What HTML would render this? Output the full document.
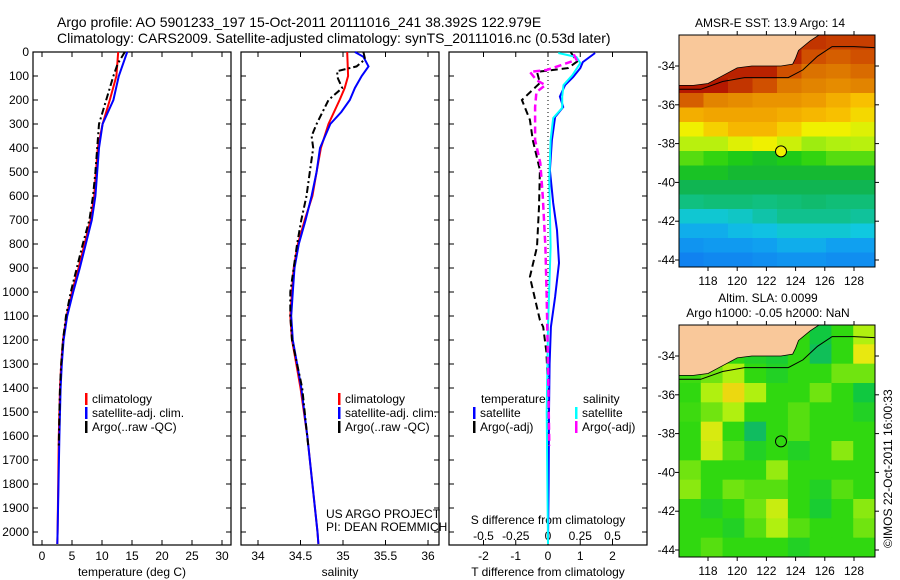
<!DOCTYPE html>
<html><head><meta charset="utf-8"><style>
body{margin:0;background:#fff;}
svg{display:block;font-family:"Liberation Sans",sans-serif;}
</style></head><body>
<svg id="fig" width="900" height="580" viewBox="0 0 900 580" xmlns="http://www.w3.org/2000/svg">
<text x="57" y="27" font-size="14">Argo profile: AO 5901233_197 15-Oct-2011 20111016_241 38.392S 122.979E</text>
<text x="57" y="43" font-size="14">Climatology: CARS2009. Satellite-adjusted climatology: synTS_20111016.nc (0.53d later)</text>
<g id="g"></g>
</svg>
<script>
// ---------- data ----------
const depthTicks=[0,100,200,300,400,500,600,700,800,900,1000,1100,1200,1300,1400,1500,1600,1700,1800,1900,2000];
const tempTicks=[0,5,10,15,20,25,30];
const salTicks=[34,34.5,35,35.5,36];
const salTickLabels=["34","34.5","35","35.5","36"];
const tdTicks=[-2,-1,0,1,2];
const sdTicks=[-0.5,-0.25,0,0.25,0.5];
const sdTickLabels=["-0.5","-0.25","0","0.25","0.5"];

const tClimD=[0,100,200,300,400,500,600,700,800,900,1000,1100,1200,1300,1400,1600,1800,2000,2050];
const tClimV=[12.7,12.4,11.3,10.1,9.3,9.0,8.7,8.1,7.1,6.1,5.0,4.1,3.5,3.2,3.0,2.8,2.7,2.6,2.55];
const tSatD=[0,100,200,300,400,500,600,700,800,900,1000,1100,1200,1300,1400,1600,1800,2000,2050];
const tSatV=[14.2,12.8,11.9,10.1,9.5,9.2,8.9,8.3,7.3,6.3,5.2,4.2,3.6,3.3,3.1,2.9,2.75,2.6,2.55];
const tArgoD=[0,50,100,200,300,400,500,600,700,800,900,1000,1100,1200,1300,1400,1500,1640];
const tArgoV=[13.8,12.6,11.9,10.7,9.5,9.2,8.9,8.5,7.9,6.8,5.8,4.8,4.0,3.5,3.2,3.0,2.9,2.8];

const sClimD=[0,100,150,200,300,400,500,600,700,800,900,1000,1100,1200,1300,1400,1600,1800,2000,2050];
const sClimV=[35.05,35.06,35.02,34.96,34.83,34.74,34.69,34.64,34.55,34.47,34.42,34.40,34.38,34.40,34.45,34.50,34.58,34.64,34.70,34.71];
const sSatD=[0,20,60,100,150,200,250,300,400,500,600,700,800,900,1000,1100,1200,1300,1400,1600,1800,2000,2050];
const sSatV=[35.14,35.24,35.30,35.22,35.14,35.08,34.98,34.85,34.73,34.69,34.63,34.56,34.48,34.43,34.41,34.39,34.41,34.46,34.51,34.58,34.64,34.70,34.71];
const sArgoD=[0,30,60,80,110,150,200,300,350,400,500,600,700,800,900,1000,1100,1200,1300,1400,1500,1640];
const sArgoV=[35.24,35.26,35.16,34.93,34.94,34.99,34.83,34.69,34.63,34.65,34.61,34.57,34.51,34.46,34.42,34.38,34.38,34.40,34.46,34.52,34.55,34.59];

const dTSatD=[4,42,67,104,138,186,229,271,367,492,629,742,879,1021,1146,1300,1500,1800,2050];
const dTSatV=[1.46,1.08,1.0,0.78,0.53,0.37,0.47,0.22,0.12,0.06,0.16,0.28,0.34,0.22,0.09,0.05,0.03,0.02,0.0];
const dTArgoD=[0,40,67,83,129,200,283,367,492,646,812,937,1117,1146,1250,1400,1640];
const dTArgoV=[0.7,0.9,0.62,-0.34,-0.25,-0.81,-0.56,-0.47,-0.25,-0.28,-0.34,-0.56,-0.25,-0.15,-0.05,0.0,0.0];
const dSSatD=[4,21,46,96,138,186,233,275,367,533,812,1146,1500,2050];
const dSSatV=[0.08,0.22,0.25,0.19,0.12,0.11,0.11,0.04,0.02,0.01,0.02,0.0,-0.01,0.0];
const dSArgoD=[10,33,75,83,117,138,167,229,367,463,604,812,1021,1300,1640];
const dSArgoV=[0.2,0.22,-0.01,-0.14,-0.09,-0.02,-0.09,-0.1,-0.1,-0.06,-0.04,-0.02,-0.01,0.0,0.01];

// SST map grid: 16 rows (north->south), 8 cols (west->east), colour index 0..1
const sstGrid=[
[0.95,0.95,0.95,0.95,0.95,0.93,0.92,0.92],
[0.95,0.95,0.95,0.95,0.95,0.9,0.88,0.9],
[0.95,0.95,0.95,0.95,0.9,0.85,0.84,0.86],
[0.96,0.96,0.93,0.9,0.84,0.82,0.8,0.82],
[0.88,0.82,0.8,0.78,0.78,0.76,0.72,0.68],
[0.72,0.74,0.74,0.74,0.72,0.7,0.68,0.65],
[0.62,0.66,0.7,0.7,0.66,0.62,0.62,0.6],
[0.56,0.56,0.6,0.62,0.58,0.54,0.55,0.56],
[0.5,0.48,0.46,0.44,0.46,0.48,0.5,0.5],
[0.44,0.44,0.42,0.42,0.42,0.42,0.42,0.42],
[0.38,0.38,0.38,0.38,0.38,0.38,0.38,0.38],
[0.33,0.34,0.34,0.33,0.34,0.35,0.34,0.34],
[0.27,0.27,0.28,0.3,0.32,0.32,0.32,0.31],
[0.22,0.22,0.24,0.25,0.27,0.27,0.27,0.26],
[0.18,0.19,0.19,0.2,0.22,0.22,0.2,0.2],
[0.15,0.16,0.16,0.17,0.18,0.18,0.17,0.17]];
// SLA map grid: 12 rows x 9 cols, 0.3 teal .. 0.45 green .. 0.65 yellow
const slaGrid=[
[0.45,0.45,0.45,0.45,0.45,0.45,0.38,0.45,0.55],
[0.45,0.45,0.45,0.42,0.4,0.45,0.35,0.45,0.62],
[0.46,0.5,0.55,0.45,0.42,0.45,0.45,0.5,0.5],
[0.45,0.55,0.66,0.55,0.45,0.45,0.5,0.45,0.38],
[0.46,0.5,0.55,0.45,0.45,0.48,0.45,0.45,0.42],
[0.45,0.6,0.45,0.34,0.45,0.48,0.45,0.45,0.45],
[0.45,0.58,0.48,0.42,0.45,0.42,0.45,0.52,0.45],
[0.5,0.45,0.45,0.45,0.53,0.45,0.45,0.45,0.45],
[0.52,0.45,0.5,0.48,0.48,0.45,0.42,0.48,0.45],
[0.45,0.42,0.45,0.5,0.58,0.45,0.4,0.45,0.52],
[0.45,0.45,0.42,0.48,0.55,0.48,0.45,0.45,0.5],
[0.45,0.48,0.45,0.45,0.45,0.42,0.45,0.45,0.45]];
const lonTicks=[118,120,122,124,126,128];
const latTicks=[-34,-36,-38,-40,-42,-44];
const coastLon=[116.0,117.0,118.0,119.0,120.0,121.0,122.0,123.0,123.8,124.0,124.2,125.0,125.6];
const coastLat=[-35.0,-35.0,-34.9,-34.5,-34.1,-34.0,-34.0,-34.0,-33.9,-33.6,-33.2,-32.7,-32.4];
const isoLon=[116.0,117.5,119.0,120.5,122.0,123.5,124.5,125.5,126.5,128.0,129.4];
const isoLat=[-35.2,-35.2,-34.8,-34.6,-34.6,-34.6,-34.2,-33.5,-33.0,-33.0,-33.05];
const argoLon=123.0, argoLat=-38.4;

// ---------- drawing ----------
const NS='http://www.w3.org/2000/svg';
const G=document.getElementById('g');
function mk(tag,attrs,parent){const e=document.createElementNS(NS,tag);for(const k in attrs)e.setAttribute(k,attrs[k]);(parent||G).appendChild(e);return e;}
function txt(x,y,s,size,anchor,parent){const t=mk('text',{x:x,y:y,'font-size':size||12,'text-anchor':anchor||'start'},parent);t.textContent=s;return t;}

const TOP=52,BOT=545;
const yD=d=>TOP+d*0.24;
const panels=[
 {x0:33,x1:231,fx:v=>42+v*6,name:'temperature-panel'},
 {x0:241,x1:439,fx:v=>258+(v-34)*85,name:'salinity-panel'},
 {x0:449,x1:647,fx:v=>548+v*32.25,name:'difference-panel'}];
const fS=v=>548+v*129;

panels.forEach((p,i)=>{
  const r=mk('rect',{x:p.x0,y:TOP,width:p.x1-p.x0,height:BOT-TOP,fill:'none',stroke:'#000','stroke-width':1.2});
  
  
  depthTicks.forEach(d=>{
    mk('line',{x1:p.x0,x2:p.x0+5,y1:yD(d),y2:yD(d),stroke:'#000'});
    mk('line',{x1:p.x1,x2:p.x1-5,y1:yD(d),y2:yD(d),stroke:'#000'});
  });
});
depthTicks.forEach(d=>{const t=txt(29,yD(d)+4,String(d),12,'end');
  
  });
function xticks(p,ticks,labels,ly){ticks.forEach((v,k)=>{const x=p.fx(v);
  mk('line',{x1:x,x2:x,y1:TOP,y2:TOP+5,stroke:'#000'});mk('line',{x1:x,x2:x,y1:BOT,y2:BOT-5,stroke:'#000'});
  const t=txt(x,ly,labels[k],12,'middle');
  
  });}
xticks(panels[0],tempTicks,tempTicks.map(String),560);
xticks(panels[1],salTicks,salTickLabels,560);
xticks(panels[2],tdTicks,tdTicks.map(String),560);
sdTicks.forEach((v,k)=>{const t=txt(fS(v),540,sdTickLabels[k],12,'middle');
  
  });
[['temperature (deg C)',132],['salinity',340],['T difference from climatology',548]].forEach(a=>{const t=txt(a[1],576,a[0],12,'middle');
  
  });
{const t=txt(548,524,'S difference from climatology',12,'middle');
  
  }
{const t=txt(326,518,'US ARGO PROJECT',12);
 const t2=txt(326,531,'PI: DEAN ROEMMICH',12);}

// zero line in difference panel
mk('line',{x1:548,x2:548,y1:TOP,y2:BOT,stroke:'#000','stroke-dasharray':'1,3'});

function series(D,V,fx,color,dash,w,name){
  const pts=D.map((d,k)=>fx(V[k]).toFixed(1)+','+yD(d).toFixed(1)).join(' ');
  const a={points:pts,fill:'none',stroke:color,'stroke-width':w||2};
  if(dash)a['stroke-dasharray']=dash;
  const pl=mk('polyline',a);
  
  
}
const fT=panels[0].fx,fSal=panels[1].fx,fTD=panels[2].fx;
series(tClimD,tClimV,fT,'#ff0000',null,2,'temperature-climatology-line');
series(tSatD,tSatV,fT,'#0000ff',null,2,'temperature-satellite-line');
series(tArgoD,tArgoV,fT,'#000',"7,3,2,3",2,'temperature-argo-line');
series(sClimD,sClimV,fSal,'#ff0000',null,2,'salinity-climatology-line');
series(sSatD,sSatV,fSal,'#0000ff',null,2,'salinity-satellite-line');
series(sArgoD,sArgoV,fSal,'#000',"7,3,2,3",2,'salinity-argo-line');
series(dTSatD,dTSatV,fTD,'#0000ff',null,2,'t-diff-satellite-line');
series(dTArgoD,dTArgoV,fTD,'#000',"7,4",2,'t-diff-argo-line');
series(dSSatD,dSSatV,fS,'#00ffff',null,2,'s-diff-satellite-line');
series(dSArgoD,dSArgoV,fS,'#ff00ff',"7,4",2.5,'s-diff-argo-line');

// legends
function leg(x,y,color,label){mk('rect',{x:x,y:y-10,width:2.5,height:12,fill:color});
  const t=txt(x+7,y,label,12);}
[[85,'#ff0000','climatology'],[85,'#0000ff','satellite-adj. clim.'],[85,'#000','Argo(..raw -QC)']].forEach((l,k)=>leg(l[0],403+k*14,l[1],l[2]));
[[338,'#ff0000','climatology'],[338,'#0000ff','satellite-adj. clim.'],[338,'#000','Argo(..raw -QC)']].forEach((l,k)=>leg(l[0],403+k*14,l[1],l[2]));
{const t=txt(481,403,'temperature',12);
 const t2=txt(583,403,'salinity',12);}
leg(473,417,'#0000ff','satellite');leg(473,431,'#000','Argo(-adj)');
leg(575,417,'#00ffff','satellite');leg(575,431,'#ff00ff','Argo(-adj)');

// ---------- maps ----------
const stops=[[0.12,[16,112,240]],[0.2,[16,160,240]],[0.26,[16,200,224]],[0.33,[16,192,128]],[0.4,[16,176,64]],[0.47,[32,208,16]],[0.55,[176,240,16]],[0.62,[240,240,0]],[0.68,[248,192,0]],[0.75,[240,160,0]],[0.83,[224,128,0]],[0.9,[208,80,0]],[0.97,[176,16,0]]];
function cmap(v){if(v<=stops[0][0])return 'rgb('+stops[0][1]+')';
  for(let i=1;i<stops.length;i++){if(v<=stops[i][0]){const a=stops[i-1],b=stops[i],t=(v-a[0])/(b[0]-a[0]);
    return 'rgb('+a[1].map((c,j)=>Math.round(c+(b[1][j]-c)*t)).join(',')+')';}}
  return 'rgb('+stops[stops.length-1][1]+')';}
const slaStops=[[0.3,[16,176,128]],[0.38,[16,200,64]],[0.45,[48,216,16]],[0.55,[176,240,16]],[0.62,[232,232,16]],[0.7,[240,200,16]]];
function cmapSla(v){if(v<=slaStops[0][0])return 'rgb('+slaStops[0][1]+')';
  for(let i=1;i<slaStops.length;i++){if(v<=slaStops[i][0]){const a=slaStops[i-1],b=slaStops[i],t=(v-a[0])/(b[0]-a[0]);
    return 'rgb('+a[1].map((c,j)=>Math.round(c+(b[1][j]-c)*t)).join(',')+')';}}
  return 'rgb('+slaStops[slaStops.length-1][1]+')';}

function drawMap(cfg){
  const {x0,x1,y0,y1,y34,grid,cm,name}=cfg;
  const fx=lon=>708+(lon-118)*14.6, fy=lat=>y34+(-34-lat)*19.4;
  const grp=mk('g',{});
  
  
  const clip='clip-'+name;
  const cp=mk('clipPath',{id:clip},grp);mk('rect',{x:x0,y:y0,width:x1-x0,height:y1-y0},cp);
  const inner=mk('g',{'clip-path':'url(#'+clip+')'},grp);
  const R=grid.length,C=grid[0].length,cw=(x1-x0)/C,ch=(y1-y0)/R;
  grid.forEach((row,r)=>row.forEach((v,c)=>{
    const cell=mk('rect',{x:(x0+c*cw).toFixed(2),y:(y0+r*ch).toFixed(2),width:(cw+0.6).toFixed(2),height:(ch+0.6).toFixed(2),fill:cm(v)},inner);
    
    
  }));
  let land='M'+x0+','+y0+' ';
  coastLon.forEach((lo,k)=>{land+='L'+fx(lo).toFixed(1)+','+fy(coastLat[k]).toFixed(1)+' ';});
  land+='L'+x1+','+fy(-32.4).toFixed(1)+' L'+x1+','+y0+' Z';
  const lp=mk('path',{d:land,fill:'#f9c89a',stroke:'#000','stroke-width':0.8},inner);
  
  const iso=mk('polyline',{points:isoLon.map((lo,k)=>fx(lo).toFixed(1)+','+fy(isoLat[k]).toFixed(1)).join(' '),fill:'none',stroke:'#000','stroke-width':1},inner);
  
  mk('rect',{x:x0,y:y0,width:x1-x0,height:y1-y0,fill:'none',stroke:'#000'},grp);
  lonTicks.forEach(lo=>{const x=fx(lo);mk('line',{x1:x,x2:x,y1:y0-4,y2:y0,stroke:'#000'},grp);mk('line',{x1:x,x2:x,y1:y1,y2:y1+4,stroke:'#000'},grp);
    const t=txt(x,y1+18,String(lo),12,'middle',grp);});
  latTicks.forEach(la=>{const y=fy(la);mk('line',{x1:x0-4,x2:x0,y1:y,y2:y,stroke:'#000'},grp);mk('line',{x1:x1,x2:x1+4,y1:y,y2:y,stroke:'#000'},grp);
    const t=txt(x0-4,y+4,String(la),12,'end',grp);});
  const m=mk('circle',{cx:fx(argoLon),cy:fy(argoLat),r:5.5,fill:cfg.marker,stroke:'#000','stroke-width':1},grp);
  
}
drawMap({x0:679,x1:875,y0:35,y1:267,y34:66,grid:sstGrid,cm:cmap,name:'sst-map',marker:'#f0f000'});
drawMap({x0:679,x1:875,y0:325,y1:557,y34:356,grid:slaGrid,cm:cmapSla,name:'sla-map',marker:'none'});
{const t=txt(770,27,'AMSR-E SST: 13.9 Argo: 14',12,'middle');
 const t2=txt(768,302,'Altim. SLA: 0.0099',12,'middle');
 const t3=txt(768,317,'Argo h1000: -0.05 h2000: NaN',12,'middle');
 const t4=txt(0,0,'©IMOS 22-Oct-2011 16:00:33',12,'start');t4.setAttribute('transform','translate(892,548) rotate(-90)');
 }
</script>
</body></html>
